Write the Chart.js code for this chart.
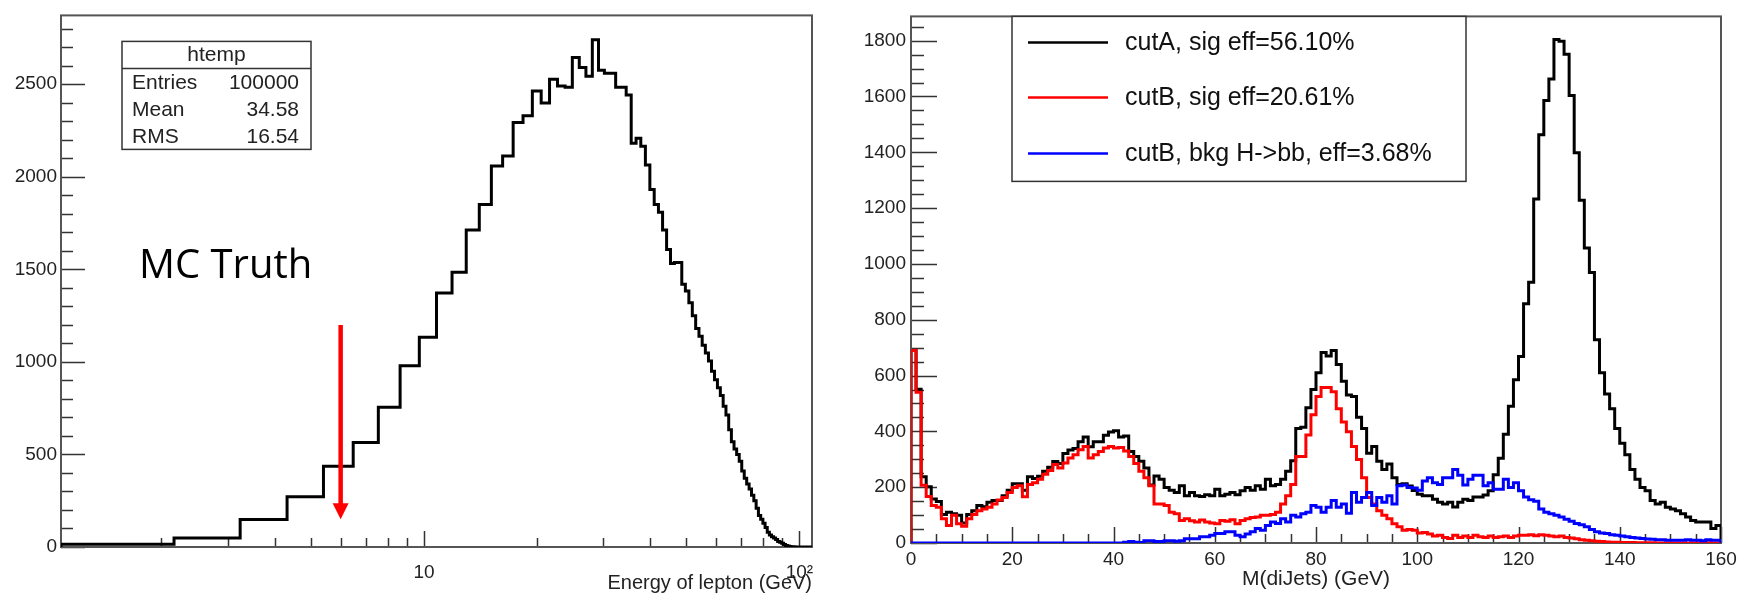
<!DOCTYPE html>
<html><head><meta charset="utf-8">
<script src="https://cdn.jsdelivr.net/npm/chart.js@4"></script>
<style>
html,body{margin:0;padding:0;background:#fff;}
#wrap{position:relative;width:1747px;height:599px;overflow:hidden;background:#fff}
#c1{position:absolute;left:0;top:0;}
#c2{position:absolute;left:840px;top:0;}
</style></head><body>
<div id="wrap"><canvas id="c1" width="840" height="599"></canvas><canvas id="c2" width="907" height="599"></canvas></div>
<script>
// ---------------- LEFT PANEL DATA ----------------
const leftBinWidth = 1.08;          // GeV per bin, first shown bin starts at 1.08
const leftFirstEdge = 1.08;
const leftCounts = [
  15, 48, 149, 271, 436, 564, 755, 979, 1133, 1372,
  1484, 1713, 1851, 2059, 2112, 2293, 2330, 2463, 2399, 2527,
  2490, 2484, 2644, 2591, 2543, 2740, 2575, 2559, 2559, 2484,
  2484, 2442, 2181, 2208, 2165, 2064, 1931, 1851, 1809, 1713,
  1607, 1532, 1537, 1537, 1420, 1383, 1319, 1250, 1180, 1138,
  1090, 1048, 1005, 950, 904, 860, 819, 760, 713, 633,
  569, 530, 500, 463, 410, 372, 340, 314, 280, 250,
  210, 170, 150, 128, 105, 80, 65, 55, 48, 40,
  30, 25, 20, 14, 8, 5, 3, 2, 1, 0,
  0, 0, 0, 0, 0, 0, 0, 0, 0
];
const leftYTicks = [0, 500, 1000, 1500, 2000, 2500];
const leftYMinor = [100,200,300,400,600,700,800,900,1100,1200,1300,1400,1600,1700,1800,1900,2100,2200,2300,2400,2600,2700,2800];
const leftXTicks = [10, 100];
const leftXTickLabels = ['10', '10\u00B2'];
const leftXMinor = [2,3,4,5,6,7,8,9,20,30,40,50,60,70,80,90];
const leftXTitle = 'Energy of lepton (GeV)';
const statsTitle = 'htemp';
const statsRows = [['Entries', '100000'], ['Mean', '34.58'], ['RMS', '16.54']];
const noteText = 'MC Truth';
const arrowX = 6, arrowYFrom = 1200, arrowYTo = 150;

// ---------------- RIGHT PANEL DATA ----------------
const rightBinWidth = 1;
const rightFirstEdge = 0;
const cutA = [
  690, 551, 237, 202, 158, 149, 102, 110, 105, 99,
  72, 102, 116, 134, 130, 146, 152, 152, 169, 189,
  212, 212, 189, 237, 231, 239, 257, 271, 292, 285,
  321, 333, 339, 363, 380, 345, 363, 363, 386, 398,
  402, 380, 383, 328, 310, 293, 269, 208, 240, 228,
  199, 189, 181, 205, 169, 181, 169, 167, 173, 169,
  193, 169, 175, 181, 173, 187, 199, 189, 205, 193,
  228, 205, 210, 228, 257, 295, 410, 415, 485, 550,
  610, 683, 670, 690, 640, 580, 530, 525, 451, 410,
  322, 346, 293, 263, 283, 234, 210, 212, 204, 188,
  175, 169, 169, 157, 146, 140, 146, 129, 146, 157,
  152, 165, 165, 172, 187, 245, 304, 390, 490, 585,
  668, 857, 934, 1233, 1463, 1586, 1663, 1804, 1798, 1751,
  1604, 1398, 1228, 1057, 969, 728, 610, 534, 481, 410,
  357, 316, 263, 228, 199, 187, 152, 140, 146, 128,
  122, 116, 105, 93, 81, 75, 75, 75, 52, 63
];
const cutBsig = [
  690, 540, 207, 167, 134, 128, 87, 63, 99, 69,
  60, 87, 102, 116, 122, 128, 140, 154, 163, 181,
  199, 205, 166, 210, 216, 228, 246, 260, 281, 269,
  287, 305, 316, 334, 346, 305, 316, 328, 340, 346,
  340, 342, 330, 310, 285, 257, 234, 205, 140, 140,
  134, 110, 105, 81, 87, 80, 75, 82, 75, 72,
  69, 81, 78, 83, 69, 81, 87, 91, 93, 99,
  99, 102, 110, 140, 169, 210, 310, 310, 387, 460,
  525, 557, 557, 542, 481, 434, 399, 346, 299, 234,
  163, 140, 116, 99, 87, 69, 58, 46, 48, 46,
  36, 38, 32, 25, 28, 20, 16, 28, 20, 25,
  20, 28, 22, 20, 25, 20, 22, 25, 20, 25,
  28, 28, 30, 26, 30, 28, 25, 22, 25, 20,
  18, 15, 12, 10, 8, 6, 5, 4, 3, 3,
  2, 2, 2, 1, 1, 1, 1, 0, 0, 0,
  0, 0, 0, 0, 0, 0, 0, 1, 0, 0
];
const cutBbkg = [
  0, 0, 0, 0, 0, 0, 0, 0, 0, 0,
  0, 0, 0, 0, 0, 0, 0, 0, 0, 0,
  0, 0, 0, 0, 0, 0, 0, 0, 0, 0,
  0, 0, 0, 0, 0, 0, 0, 0, 0, 0,
  0, 0, 3, 5, 3, 2, 8, 8, 5, 5,
  8, 8, 6, 8, 15, 15, 15, 22, 22, 28,
  34, 34, 40, 40, 28, 22, 32, 40, 52, 46,
  63, 75, 70, 87, 75, 99, 93, 105, 110, 134,
  128, 110, 128, 152, 128, 140, 107, 181, 146, 163,
  181, 134, 163, 146, 169, 140, 205, 208, 199, 197,
  189, 222, 234, 216, 210, 234, 234, 263, 243, 208,
  228, 243, 243, 205, 216, 193, 193, 228, 199, 216,
  187, 165, 155, 150, 122, 110, 105, 99, 93, 85,
  78, 70, 65, 58, 48, 40, 36, 34, 30, 28,
  25, 22, 20, 18, 16, 14, 13, 12, 12, 10,
  10, 10, 10, 12, 10, 10, 8, 12, 10, 10
];
const seriesLabels = ['cutA, sig eff=56.10%', 'cutB, sig eff=20.61%', 'cutB, bkg H->bb, eff=3.68%'];
const seriesColors = ['#000000', '#ff0000', '#0000ff'];
const rightYTicks = [0, 200, 400, 600, 800, 1000, 1200, 1400, 1600, 1800];
const rightYMinor = [50,100,150,250,300,350,450,500,550,650,700,750,850,900,950,1050,1100,1150,1250,1300,1350,1450,1500,1550,1650,1700,1750,1850];
const rightXTicks = [0, 20, 40, 60, 80, 100, 120, 140, 160];
const rightXMinor = [5,10,15,25,30,35,45,50,55,65,70,75,85,90,95,105,110,115,125,130,135,145,150,155];
const rightXTitle = 'M(diJets) (GeV)';

// ---------------- helpers ----------------
Chart.defaults.font.family = "'Liberation Sans', Arial, sans-serif";
function histPoints(counts, width, firstEdge) {
  const pts = [{x: firstEdge, y: 0}];
  counts.forEach((v, i) => pts.push({x: firstEdge + i * width, y: v}));
  pts.push({x: firstEdge + counts.length * width, y: 0});
  return pts;
}
const TXT = '#222';
const plainLabel = v => String(v);
const frameTicks = {
  id: 'frameTicks',
  beforeDatasetsDraw(chart, args, o) {
    const {ctx, chartArea: a, scales: {x, y}} = chart;
    ctx.save();
    ctx.strokeStyle = '#333';
    ctx.lineWidth = 1.5;
    ctx.beginPath();
    const hy = (vals, len) => vals.forEach(v => { const p = Math.round(y.getPixelForValue(v)) + 0.5; ctx.moveTo(a.left, p); ctx.lineTo(a.left + len, p); });
    const hx = (vals, len) => vals.forEach(v => { const p = Math.round(x.getPixelForValue(v)) + 0.5; ctx.moveTo(p, a.bottom); ctx.lineTo(p, a.bottom - len); });
    hy(o.yMajor, o.yMajorLen); hy(o.yMinor, o.yMinorLen);
    hx(o.xMajor, o.xMajorLen); hx(o.xMinor, o.xMinorLen);
    ctx.stroke();
    ctx.strokeStyle = '#555';
    ctx.lineWidth = 2;
    ctx.strokeRect(a.left, a.top, a.right - a.left, a.bottom - a.top);
    ctx.restore();
  }
};
const leftDecor = {
  id: 'leftDecor',
  afterDatasetsDraw(chart) {
    const {ctx, chartArea: a, scales: {x, y}} = chart;
    ctx.save();
    // stats box
    const L = a.left + 61, T = a.top + 26, R = a.left + 250, B = a.top + 134;
    ctx.fillStyle = '#fff';
    ctx.fillRect(L, T, R - L, B - T);
    ctx.strokeStyle = '#333'; ctx.lineWidth = 1.5;
    ctx.strokeRect(L, T, R - L, B - T);
    ctx.beginPath(); ctx.moveTo(L, T + 27); ctx.lineTo(R, T + 27); ctx.stroke();
    ctx.fillStyle = TXT;
    ctx.font = "21px 'Liberation Sans'";
    ctx.textBaseline = 'alphabetic';
    ctx.textAlign = 'center';
    ctx.fillText(statsTitle, (L + R) / 2, T + 20);
    statsRows.forEach((r, i) => {
      const by = T + 48 + i * 27;
      ctx.textAlign = 'left'; ctx.fillText(r[0], L + 10, by);
      ctx.textAlign = 'right'; ctx.fillText(r[1], R - 12, by);
    });
    // MC Truth note
    ctx.fillStyle = '#000';
    ctx.textAlign = 'left';
    ctx.font = "40px 'Open Sans'";
    ctx.fillText(noteText, a.left + 78, a.top + 263);
    // arrow
    const ax = x.getPixelForValue(arrowX);
    const y1 = y.getPixelForValue(arrowYFrom), y2 = y.getPixelForValue(arrowYTo);
    ctx.strokeStyle = '#f00'; ctx.fillStyle = '#f00';
    ctx.lineWidth = 4.5;
    ctx.beginPath(); ctx.moveTo(ax, y1); ctx.lineTo(ax, y2 - 12); ctx.stroke();
    ctx.beginPath(); ctx.moveTo(ax - 8, y2 - 16); ctx.lineTo(ax + 8, y2 - 16); ctx.lineTo(ax, y2); ctx.closePath(); ctx.fill();
    ctx.restore();
  }
};
const legendBox = {
  id: 'legendBox',
  afterDatasetsDraw(chart) {
    const {ctx, chartArea: a} = chart;
    const L = a.left + 101, T = a.top, R = a.left + 555, B = a.top + 165;
    ctx.save();
    ctx.fillStyle = '#fff'; ctx.fillRect(L, T, R - L, B - T);
    ctx.strokeStyle = '#333'; ctx.lineWidth = 1.5; ctx.strokeRect(L, T, R - L, B - T);
    const rows = [26, 81, 137];
    chart.data.datasets.forEach((ds, i) => {
      const yy = T + rows[i];
      ctx.strokeStyle = ds.borderColor; ctx.lineWidth = 2.5;
      ctx.beginPath(); ctx.moveTo(a.left + 117, yy); ctx.lineTo(a.left + 197, yy); ctx.stroke();
      ctx.fillStyle = '#111';
      ctx.font = "25px 'Liberation Sans'";
      ctx.textAlign = 'left'; ctx.textBaseline = 'middle';
      ctx.fillText(ds.label, a.left + 214, yy + 1);
    });
    ctx.restore();
  }
};
const tickFont = {family: "'Liberation Sans'", size: 19};
const common = {
  responsive: false, animation: false, events: [],
  plugins: {legend: {display: false}, tooltip: {enabled: false}},
  elements: {point: {radius: 0}, line: {tension: 0, borderJoinStyle: 'miter', borderCapStyle: 'butt'}}
};

// ---------------- LEFT CHART ----------------
new Chart(document.getElementById('c1'), {
  type: 'line',
  data: {datasets: [{
    label: statsTitle,
    data: histPoints(leftCounts, leftBinWidth, leftFirstEdge),
    borderColor: '#000', borderWidth: 3, stepped: true, fill: false
  }]},
  options: Object.assign({}, common, {
    layout: {padding: {left: 0, top: 7, right: 28, bottom: 0}},
    plugins: Object.assign({}, common.plugins, {
      frameTicks: {yMajor: leftYTicks, yMinor: leftYMinor, yMajorLen: 24, yMinorLen: 12,
                   xMajor: leftXTicks, xMinor: leftXMinor, xMajorLen: 16, xMinorLen: 9}
    }),
    scales: {
      x: {
        type: 'logarithmic', min: 1.08, max: 108,
        afterBuildTicks: s => { s.ticks = leftXTicks.map(v => ({value: v})); },
        afterFit: s => { s.height = 52; },
        grid: {display: false, drawTicks: false}, border: {display: false},
        ticks: {autoSkip: false, maxRotation: 0, font: tickFont, color: TXT, padding: 14,
                callback: (v, i) => leftXTickLabels[i]},
        title: {display: true, text: leftXTitle, align: 'end', color: TXT,
                font: {family: "'Liberation Sans'", size: 20}, padding: {top: 0, bottom: 4}}
      },
      y: {
        type: 'linear', min: 0, max: 2872,
        afterBuildTicks: s => { s.ticks = leftYTicks.map(v => ({value: v})); },
        afterFit: s => { s.width = 61; },
        grid: {display: false, drawTicks: false}, border: {display: false},
        ticks: {font: tickFont, color: TXT, padding: 4, callback: plainLabel}
      }
    }
  }),
  plugins: [frameTicks, leftDecor]
});

// ---------------- RIGHT CHART ----------------
const rightSeries = [cutA, cutBsig, cutBbkg];
new Chart(document.getElementById('c2'), {
  type: 'line',
  data: {datasets: rightSeries.map((s, i) => ({
    label: seriesLabels[i],
    data: histPoints(s, rightBinWidth, rightFirstEdge),
    borderColor: seriesColors[i], borderWidth: 3, stepped: true, fill: false,
    order: 3 - i
  }))},
  options: Object.assign({}, common, {
    layout: {padding: {left: 0, top: 7, right: 26, bottom: 0}},
    plugins: Object.assign({}, common.plugins, {
      frameTicks: {yMajor: rightYTicks, yMinor: rightYMinor, yMajorLen: 26, yMinorLen: 13,
                   xMajor: rightXTicks, xMinor: rightXMinor, xMajorLen: 16, xMinorLen: 9}
    }),
    scales: {
      x: {
        type: 'linear', min: 0, max: 160,
        afterBuildTicks: s => { s.ticks = rightXTicks.map(v => ({value: v})); },
        afterFit: s => { s.height = 56; },
        grid: {display: false, drawTicks: false}, border: {display: false},
        ticks: {autoSkip: false, maxRotation: 0, font: tickFont, color: TXT, padding: 5, callback: plainLabel},
        title: {display: true, text: rightXTitle, align: 'center', color: TXT,
                font: {family: "'Liberation Sans'", size: 21}, padding: {top: 0, bottom: 7}}
      },
      y: {
        type: 'linear', min: 0, max: 1887,
        afterBuildTicks: s => { s.ticks = rightYTicks.map(v => ({value: v})); },
        afterFit: s => { s.width = 71; },
        grid: {display: false, drawTicks: false}, border: {display: false},
        ticks: {font: tickFont, color: TXT, padding: 5, callback: plainLabel}
      }
    }
  }),
  plugins: [frameTicks, legendBox]
});
</script>
</body></html>
